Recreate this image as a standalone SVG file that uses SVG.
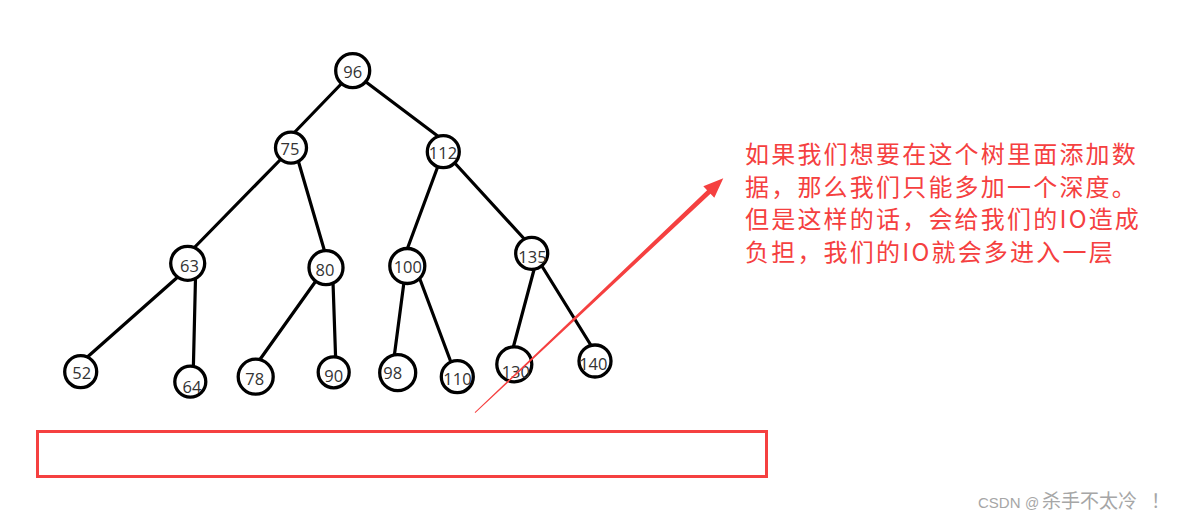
<svg xmlns="http://www.w3.org/2000/svg" width="1177" height="521" viewBox="0 0 1177 521">
<style>
.n circle{fill:#fff;stroke:#000;stroke-width:3.3}
.n text{font-family:"Open Sans","Noto Sans",sans-serif;font-size:16.5px;fill:#333;text-anchor:middle;dominant-baseline:central}
.e line{stroke:#000;stroke-width:3.2;stroke-linecap:round}
.note{font-family:"Noto Sans CJK SC","Noto Sans",sans-serif;font-size:24px;fill:#f54040;letter-spacing:2.2px}
.wm{font-family:"Liberation Sans","Noto Sans CJK SC",sans-serif;font-size:15px;fill:#a6a6a6}
.wmc{font-family:"Noto Sans CJK SC",sans-serif;font-size:19px}
</style>
<rect width="1177" height="521" fill="#fff"/>
<g id="connectors" class="e">
<line x1="345" y1="80" x2="291" y2="136"/>
<line x1="362" y1="79" x2="443" y2="140"/>
<line x1="283" y1="157" x2="190" y2="252"/>
<line x1="298" y1="160" x2="326" y2="256"/>
<line x1="438" y1="166" x2="405" y2="255"/>
<line x1="452" y1="160" x2="528" y2="243"/>
<line x1="180" y1="275" x2="84" y2="360"/>
<line x1="195.5" y1="278" x2="193.3" y2="370"/>
<line x1="318" y1="278" x2="256" y2="365"/>
<line x1="333" y1="282" x2="335.7" y2="360"/>
<line x1="404" y1="282" x2="394" y2="358"/>
<line x1="418" y1="274" x2="452" y2="365"/>
<line x1="535" y1="266" x2="512" y2="352"/>
<line x1="540" y1="263" x2="592" y2="347"/>
</g>
<g id="n96" class="n"><circle cx="352.7" cy="70.7" r="17"/><text x="352.7" y="71.7">96</text></g>
<g id="n75" class="n"><circle cx="291" cy="147.7" r="15.5"/><text x="290" y="148.3">75</text></g>
<g id="n112" class="n"><circle cx="443.3" cy="151.7" r="16"/><text x="443" y="152.5">112</text></g>
<g id="n63" class="n"><circle cx="187.7" cy="263.3" r="17"/><text x="189.5" y="265">63</text></g>
<g id="n80" class="n"><circle cx="326" cy="267.7" r="17"/><text x="325" y="269">80</text></g>
<g id="n100" class="n"><circle cx="407.3" cy="266" r="17.5"/><text x="407.8" y="266.7">100</text></g>
<g id="n135" class="n"><circle cx="531.7" cy="253.3" r="16"/><text x="532.5" y="256">135</text></g>
<g id="n52" class="n"><circle cx="80.7" cy="371.7" r="16"/><text x="81.7" y="372.7">52</text></g>
<g id="n64" class="n"><circle cx="190.3" cy="381.7" r="15.5"/><text x="192" y="386">64</text></g>
<g id="n78" class="n"><circle cx="255.7" cy="376.7" r="17.5"/><text x="254.7" y="378.3">78</text></g>
<g id="n90" class="n"><circle cx="333.7" cy="372.3" r="15.5"/><text x="333.8" y="375">90</text></g>
<g id="n98" class="n"><circle cx="397.7" cy="372.7" r="18"/><text x="392.8" y="372.7">98</text></g>
<g id="n110" class="n"><circle cx="457.3" cy="376.7" r="16"/><text x="457.5" y="378.3">110</text></g>
<g id="n130" class="n"><circle cx="514.3" cy="364.3" r="17.5"/><text x="515.8" y="371">130</text></g>
<g id="n140" class="n"><circle cx="595" cy="361" r="16"/><text x="593.3" y="363.3">140</text></g>
<g id="annotation">
<rect x="37.5" y="431.5" width="729" height="45" fill="none" stroke="#f54040" stroke-width="3"/>
<polygon points="474.7,412.3 707.1,190.2 703.3,186.2 723.3,178.3 714.3,197.8 710.5,193.8 475.3,413.1" fill="#f54040"/>
<text class="note" x="745" y="163">如果我们想要在这个树里面添加数</text>
<text class="note" x="745" y="195.7">据，那么我们只能多加一个深度。</text>
<text class="note" x="745" y="228.3">但是这样的话，会给我们的IO造成</text>
<text class="note" x="745" y="261">负担，我们的IO就会多进入一层</text>
</g>
<text class="wm" x="978" y="508">CSDN<tspan x="1025" font-size="14">@</tspan><tspan class="wmc" x="1042">杀手不太冷</tspan><tspan class="wmc" x="1151">！</tspan></text>
</svg>
